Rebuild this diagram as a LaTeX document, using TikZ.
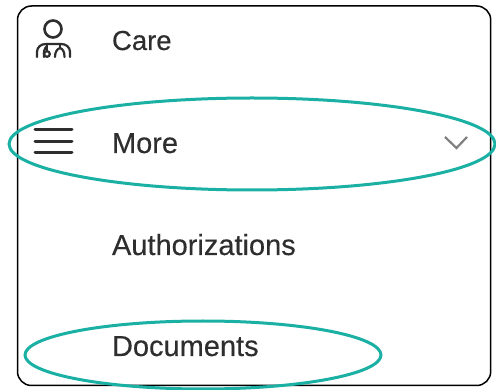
\documentclass[tikz,border=0pt]{standalone}
\usepackage{fontspec}
\setmainfont[FakeBold=0.25]{Liberation Sans}
\usetikzlibrary{shapes.geometric}
\definecolor{tealring}{HTML}{1AB0A4}
\definecolor{inkgrey}{HTML}{2E2E2E}
\tikzset{
  every node/.style={inner sep=0pt,outer sep=0pt},
  menutext/.style={anchor=base west,text=inkgrey,font=\fontsize{29}{32}\selectfont},
  ring/.style={draw=tealring,line width=3pt,ellipse},
  frame/.style={draw=black,line width=1.5pt,rounded corners=14pt},
  iconline/.style={draw=inkgrey,line width=2.2pt,line cap=round},
}
\begin{document}
\begin{tikzpicture}[x=1pt,y=-1pt]
\useasboundingbox (0,0) rectangle (496,390);
\fill[white] (0,0) rectangle (496,390);
\draw[frame] (17.5,6) rectangle (490.7,385.5);
\node[menutext,font=\fontsize{27.5}{30}\selectfont] (care) at (112,50) {Care};
\node[menutext] (more) at (112,153) {More};
\node[menutext] (auth) at (112,255) {Authorizations};
\node[menutext] (docs) at (112,356) {Documents};
% person icon
\draw[iconline,line width=2.6pt] (53,29) circle (8.5);
\draw[iconline] (37,57) -- (37,52) .. controls (37,47) and (41,44) .. (46,44) -- (61,44) .. controls (66,44) and (70,47) .. (70,52) -- (70,57);
\draw[iconline] (44,57) .. controls (43.5,52) and (44,49) .. (47,46);
\draw[iconline] (47,44) -- (47,50.5);
\draw[iconline] (47,54) circle (2.8);
\draw[iconline] (55,57) .. controls (55,52) and (57,49) .. (60,48) .. controls (63,49) and (64.5,52) .. (64.5,57);
\draw[iconline] (60,44) -- (60,48);
% hamburger
\draw[iconline,line width=3pt] (35,130) -- (72,130);
\draw[iconline,line width=3pt] (35,142) -- (72,142);
\draw[iconline,line width=3pt] (35,153) -- (72,153);
% chevron
\draw[draw=gray,line width=2.2pt] (445,137) -- (456.5,148) -- (467,137);
% rings
\node[ring,minimum width=486pt,minimum height=92pt] (r1) at (252,144) {};
\node[ring,minimum width=356pt,minimum height=68pt] (r2) at (203,355) {};
\end{tikzpicture}
\end{document}
